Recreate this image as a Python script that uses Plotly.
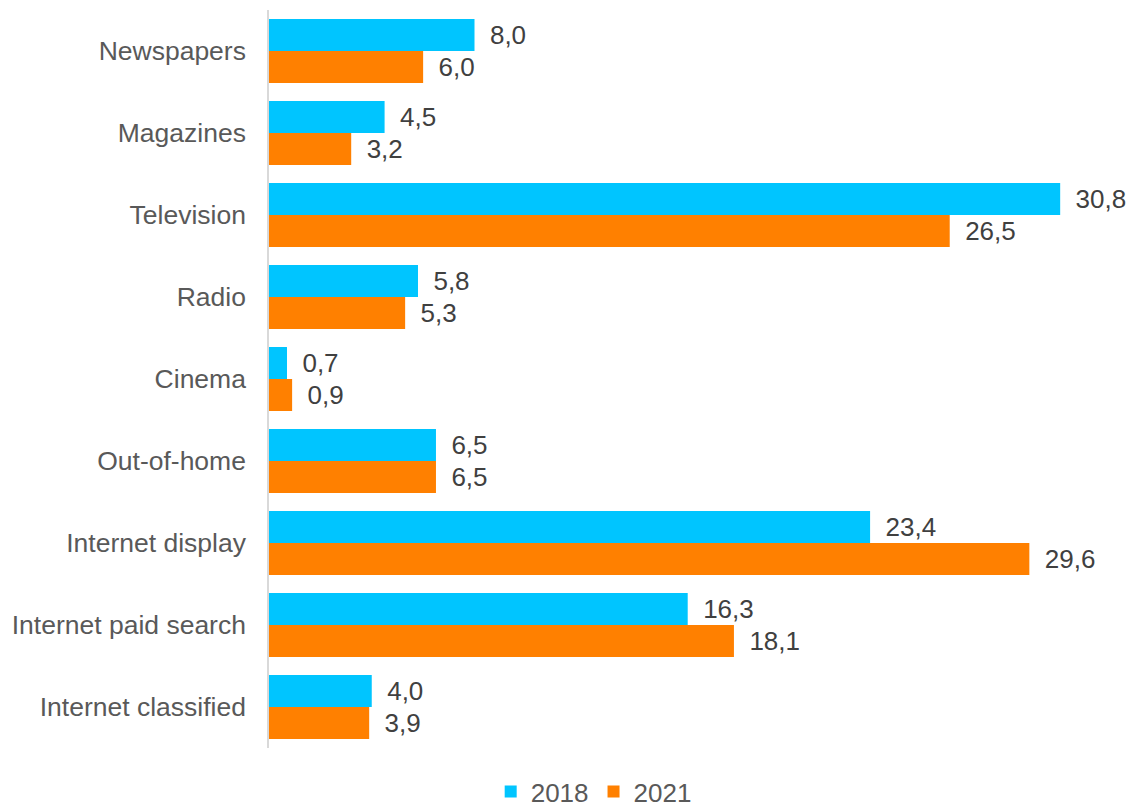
import plotly.graph_objects as go

categories = ["Newspapers", "Magazines", "Television", "Radio", "Cinema",
              "Out-of-home", "Internet display", "Internet paid search", "Internet classified"]
values_2018 = [8.0, 4.5, 30.8, 5.8, 0.7, 6.5, 23.4, 16.3, 4.0]
values_2021 = [6.0, 3.2, 26.5, 5.3, 0.9, 6.5, 29.6, 18.1, 3.9]

def fmt(v):
    return "\u00a0\u2009" + f"{v:.1f}".replace(".", ",")

FONT = "Liberation Sans, Arial, sans-serif"

fig = go.Figure()
for name, vals, col in [("2018", values_2018, "#00C5FF"), ("2021", values_2021, "#FF8000")]:
    fig.add_trace(go.Bar(
        y=categories, x=vals, name=name, orientation="h",
        marker=dict(color=col, line=dict(width=0)),
        text=[fmt(v) for v in vals], textposition="outside",
        textfont=dict(size=26, color="#404040", family=FONT),
        cliponaxis=False,
    ))

fig.update_layout(
    width=1134, height=811,
    margin=dict(l=269, r=43, t=10, b=63, autoexpand=False),
    barmode="group", bargap=0.22, bargroupgap=0,
    plot_bgcolor="white", paper_bgcolor="white",
    font=dict(family=FONT, size=26, color="#595959"),
    xaxis=dict(range=[0, 32], visible=False, showgrid=False, zeroline=False, automargin=False),
    yaxis=dict(autorange="reversed", showline=True, linecolor="#D9D9D9", linewidth=1.5,
               ticks="", ticklabelstandoff=16, automargin=False,
               tickfont=dict(size=26.5, color="#595959", family=FONT)),
    legend=dict(orientation="h", x=0.395, xanchor="center", y=-0.059, yanchor="middle",
                font=dict(size=26, color="#595959", family=FONT), traceorder="normal",
                itemwidth=30, tracegroupgap=0),
    showlegend=True,
)
fig.write_html("out.html", config={"displayModeBar": False},
               post_script="document.body.style.margin='0';document.body.style.overflow='hidden';")
